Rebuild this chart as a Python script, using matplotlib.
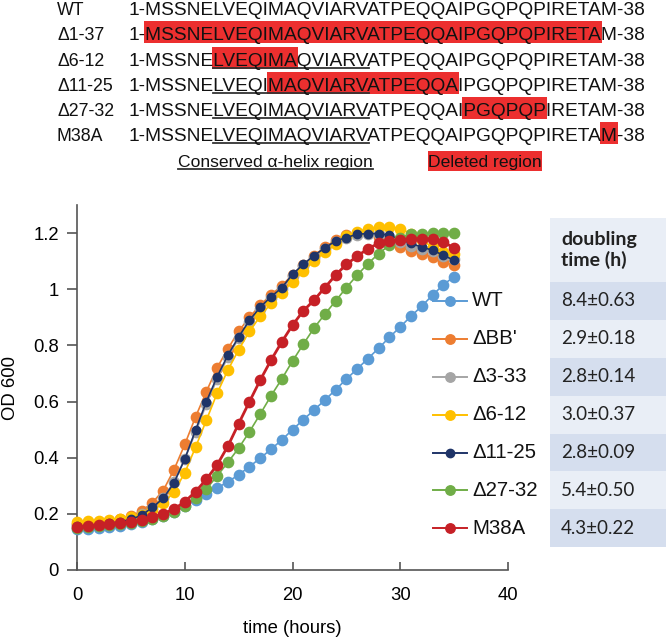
import matplotlib
matplotlib.use("Agg")
import matplotlib.pyplot as plt
from matplotlib.patches import Rectangle
from matplotlib.lines import Line2D
from matplotlib.font_manager import FontProperties
import numpy as np

# ---------------- data ----------------
time_h = list(range(36))
series_names = ["WT", "\u0394BB'", "\u03943-33", "\u03946-12", "\u039411-25", "\u039427-32", "M38A"]
series_colors = ["#5B9BD5", "#ED7D31", "#A5A5A5", "#FFC000", "#1F3468", "#70AD47", "#C62026"]

od_WT = [0.145, 0.147, 0.150, 0.154, 0.158, 0.163, 0.170, 0.180, 0.192, 0.207, 0.228, 0.250,
         0.270, 0.292, 0.314, 0.339, 0.368, 0.398, 0.430, 0.463, 0.500, 0.535, 0.570, 0.605,
         0.642, 0.680, 0.716, 0.753, 0.790, 0.829, 0.866, 0.904, 0.940, 0.979, 1.016, 1.045]
od_BB = [0.165, 0.168, 0.172, 0.176, 0.182, 0.192, 0.210, 0.240, 0.283, 0.357, 0.447, 0.545,
         0.635, 0.720, 0.788, 0.850, 0.900, 0.943, 0.980, 1.012, 1.052, 1.088, 1.120, 1.150,
         1.175, 1.192, 1.200, 1.200, 1.185, 1.165, 1.152, 1.135, 1.127, 1.115, 1.098, 1.085]
od_3_33 = [0.160, 0.163, 0.167, 0.172, 0.178, 0.186, 0.200, 0.222, 0.255, 0.315, 0.395, 0.490,
           0.590, 0.680, 0.758, 0.825, 0.882, 0.930, 0.968, 1.000, 1.048, 1.082, 1.112, 1.142,
           1.168, 1.182, 1.192, 1.196, 1.195, 1.185, 1.170, 1.155, 1.145, 1.135, 1.120, 1.108]
od_6_12 = [0.172, 0.174, 0.176, 0.179, 0.183, 0.188, 0.196, 0.212, 0.237, 0.278, 0.346, 0.437,
           0.533, 0.629, 0.712, 0.784, 0.850, 0.903, 0.950, 0.988, 1.027, 1.066, 1.100, 1.132,
           1.160, 1.190, 1.205, 1.216, 1.222, 1.222, 1.216, 1.198, 1.175, 1.150, 1.133, 1.125]
od_11_25 = [0.155, 0.158, 0.162, 0.167, 0.172, 0.180, 0.195, 0.223, 0.255, 0.310, 0.395, 0.498,
            0.599, 0.688, 0.765, 0.830, 0.889, 0.936, 0.973, 1.005, 1.053, 1.089, 1.120, 1.147,
            1.172, 1.184, 1.196, 1.198, 1.198, 1.192, 1.177, 1.163, 1.150, 1.139, 1.121, 1.103]
od_27_32 = [0.150, 0.153, 0.157, 0.161, 0.164, 0.168, 0.174, 0.182, 0.193, 0.207, 0.228, 0.256,
            0.288, 0.335, 0.383, 0.434, 0.492, 0.555, 0.620, 0.680, 0.744, 0.804, 0.862, 0.911,
            0.958, 1.006, 1.050, 1.091, 1.127, 1.157, 1.184, 1.196, 1.198, 1.200, 1.200, 1.200]
od_M38A = [0.152, 0.156, 0.161, 0.165, 0.167, 0.172, 0.178, 0.188, 0.201, 0.217, 0.243, 0.279,
           0.323, 0.374, 0.441, 0.521, 0.599, 0.676, 0.747, 0.812, 0.872, 0.923, 0.961, 1.006,
           1.050, 1.089, 1.117, 1.145, 1.163, 1.171, 1.177, 1.178, 1.180, 1.178, 1.168, 1.147]
series_values = [od_WT, od_BB, od_3_33, od_6_12, od_11_25, od_27_32, od_M38A]

doubling_header = "doubling\ntime (h)"
doubling_times = ["8.4\u00b10.63", "2.9\u00b10.18", "2.8\u00b10.14", "3.0\u00b10.37",
                  "2.8\u00b10.09", "5.4\u00b10.50", "4.3\u00b10.22"]

x_ticks = [0, 10, 20, 30, 40]
y_ticks = [0, 0.2, 0.4, 0.6, 0.8, 1.0, 1.2]
y_tick_labels = ["0", "0.2", "0.4", "0.6", "0.8", "1", "1.2"]

seq_labels = ["WT", "\u03941-37", "\u03946-12", "\u039411-25", "\u039427-32", "M38A"]
sequence = "MSSNELVEQIMAQVIARVATPEQQAIPGQPQPIRETAM"
deleted_ranges = [None, (1, 37), (6, 12), (11, 25), (27, 32), (38, 38)]
helix_range = (6, 18)
helix_underlined = [False, False, True, True, True, True]

# ---------------- figure ----------------
W, H = 666, 639
fig = plt.figure(figsize=(W / 100, H / 100), dpi=100)
FONT = "Liberation Sans"
RED = "#EC2F2F"


def fx(x):
    return x / W


def fy(y):
    return 1 - y / H


# axes
ax = fig.add_axes([fx(77), fy(570), fx(508) - fx(77), fy(205) - fy(570)])
for i, (name, vals, col) in enumerate(zip(series_names, series_values, series_colors)):
    ms = 6.0 if i == 4 else 7.4
    lw = 2.0 if i == 6 else 1.2
    ax.plot(time_h, vals, color=col, lw=lw, marker="o", ms=ms, mec=col, mfc=col, zorder=3 + i,
            clip_on=False)

ax.set_xlim(0, 40)
ax.set_ylim(0, 1.3)
ax.set_xticks(x_ticks)
ax.set_yticks(y_ticks)
ax.set_yticklabels(y_tick_labels)
for s in ["top", "right"]:
    ax.spines[s].set_visible(False)
for s in ["left", "bottom"]:
    ax.spines[s].set_color("#555555")
    ax.spines[s].set_linewidth(1.2)
ax.tick_params(axis="x", direction="in", length=6, width=1.2, color="#555555", pad=12,
               labelsize=13.3)
ax.tick_params(axis="y", direction="out", length=7, width=1.2, color="#555555", pad=6,
               labelsize=13.3)
for lab in ax.get_xticklabels() + ax.get_yticklabels():
    lab.set_fontfamily(FONT)
ax.set_xlabel("time (hours)", fontsize=13.3, fontfamily=FONT, labelpad=12)
ax.set_ylabel("OD 600", fontsize=13.3, fontfamily=FONT, labelpad=10)

# legend (manual) and table
row_top = [282, 320, 358, 396, 434, 471, 509]
row_h = 38
table_x0 = 550
fig.add_artist(Rectangle((fx(table_x0), fy(282)), fx(W) - fx(table_x0), fy(218) - fy(282),
                         transform=fig.transFigure, color="#E9EEF6", lw=0))
fig.text(fx(561), fy(250), doubling_header, fontsize=14, fontweight="bold", fontfamily="Lato",
         va="center", ha="left", color="#222222", linespacing=1.2)
for i in range(7):
    yc = row_top[i] + row_h / 2
    col = "#D5DEEE" if i % 2 == 0 else "#E9EEF6"
    fig.add_artist(Rectangle((fx(table_x0), fy(row_top[i] + row_h)), fx(W) - fx(table_x0),
                             fy(row_top[i]) - fy(row_top[i] + row_h),
                             transform=fig.transFigure, color=col, lw=0))
    fig.text(fx(561), fy(yc), doubling_times[i], fontsize=13.5, fontfamily="Lato",
             va="center", ha="left", color="#222222")
    ly = fy(yc)
    c = series_colors[i]
    fig.add_artist(Line2D([fx(433), fx(467)], [ly, ly], transform=fig.transFigure, color=c,
                          lw=1.4))
    fig.add_artist(Line2D([fx(450)], [ly], transform=fig.transFigure, color=c, marker="o",
                          ms=6.8 if i != 4 else 6.0, lw=0))
    fig.text(fx(472), ly, series_names[i], fontsize=14.7, fontfamily=FONT, va="center",
             ha="left", color="#111111")

# sequence alignment block
renderer = fig.canvas.get_renderer()
seq_fp = FontProperties(family=FONT, size=13.8)
lab_fp = FontProperties(family=FONT, size=12.8)


def text_w(s):
    if not s:
        return 0.0
    w, h, d = renderer.get_text_width_height_descent(s, seq_fp, ismath=False)
    return w


full = "1-" + sequence + "-38"
seq_x0 = 128
baselines = [15, 40, 66, 91, 116, 141]
for r in range(6):
    b = baselines[r]
    fig.text(fx(57), fy(b), seq_labels[r], fontproperties=lab_fp, va="baseline", ha="left",
             color="#111111", zorder=3)
    dr = deleted_ranges[r]
    if dr is not None:
        a, z = dr
        x_a = seq_x0 + text_w(full[:2 + a - 1])
        x_z = seq_x0 + text_w(full[:2 + z])
        fig.add_artist(Rectangle((fx(x_a - 1), fy(b + 3)), fx(x_z + 1) - fx(x_a - 1),
                                 fy(b - 19) - fy(b + 3), transform=fig.transFigure,
                                 color=RED, lw=0, zorder=1))
    if helix_underlined[r]:
        a, z = helix_range
        x_a = seq_x0 + text_w(full[:2 + a - 1])
        x_z = seq_x0 + text_w(full[:2 + z])
        fig.add_artist(Line2D([fx(x_a), fx(x_z)], [fy(b + 2), fy(b + 2)],
                              transform=fig.transFigure, color="#333333", lw=1.3, zorder=2))
    fig.text(fx(seq_x0), fy(b), full, fontproperties=seq_fp, va="baseline", ha="left",
             color="#111111", zorder=3)

# key
leg_fp = FontProperties(family=FONT, size=12.6)
fig.text(fx(178), fy(167), "Conserved \u03b1-helix region", fontproperties=leg_fp,
         va="baseline", ha="left", color="#111111")
wk = renderer.get_text_width_height_descent("Conserved \u03b1-helix region", leg_fp, False)[0]
fig.add_artist(Line2D([fx(178), fx(178 + wk)], [fy(169.5), fy(169.5)],
                      transform=fig.transFigure, color="#333333", lw=1.3))
fig.add_artist(Rectangle((fx(428), fy(171)), fx(542) - fx(428), fy(151) - fy(171),
                         transform=fig.transFigure, color=RED, lw=0))
fig.text(fx(485), fy(167), "Deleted region", fontproperties=leg_fp, va="baseline",
         ha="center", color="#111111")

fig.savefig("out.png", dpi=100)
